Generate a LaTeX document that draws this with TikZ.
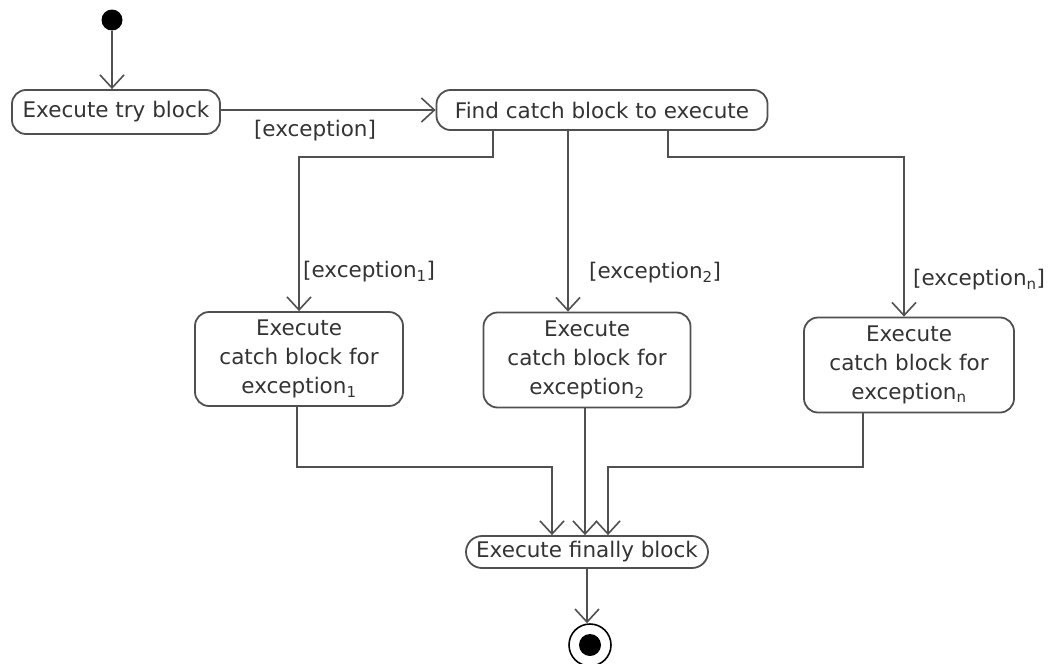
\documentclass[tikz,border=0pt]{standalone}
\usepackage{fontspec}
\setmainfont{DejaVu Sans}
\usetikzlibrary{arrows.meta}
\definecolor{linegray}{HTML}{505050}
\definecolor{textgray}{HTML}{333333}
\tikzset{
    action/.style={draw=linegray, line width=1.8pt, rounded corners=14pt,
        text=textgray, inner sep=0pt, align=center},
    arr/.style={draw=linegray, line width=1.6pt,
        -{Straight Barb[length=13pt,width=24pt,line width=1.6pt]}},
    guard/.style={text=textgray, inner sep=1pt},
}
\begin{document}
\begin{tikzpicture}[x=1pt, y=-1pt, font=\fontsize{21.5}{29}\selectfont]
        \useasboundingbox (0,0) rectangle (1053,664);
        %% start and try
        \node[circle, fill=black, minimum size=21pt, inner sep=0pt] (start) at (112,20) {};
        \node[action, minimum width=208pt, minimum height=44pt] (try) at (116,112) {Execute try block};
        \draw[arr] (start) -- (start |- try.north);
        %% find catch block
        \node[action, minimum width=331pt, minimum height=40pt] (find) at (602,110) {Find catch block to execute};
        \draw[arr] (try.east |- find) -- (find);
        \node[guard] (exc) at (315,131) {[exception]};
        %% catch blocks
        \coordinate (split) at (0,157);
        \node[action, minimum width=208pt, minimum height=94pt] (catchA) at (299,359)
            {Execute\\catch block for\\exception\textsubscript{1}};
        \node[action, minimum width=207pt, minimum height=95pt] (catchB) at (587,360)
            {Execute\\catch block for\\exception\textsubscript{2}};
        \node[action, minimum width=210pt, minimum height=95pt] (catchN) at (909,365)
            {Execute\\catch block for\\exception\textsubscript{n}};
        \draw[arr] ([xshift=-109pt]find.south) -- ([xshift=-109pt]find.south |- split) -| (catchA.north);
        \draw[arr] ([xshift=-34pt]find.south) -- ([xshift=-34pt]find.south |- catchB.north);
        \draw[arr] ([xshift=66pt]find.south) -- ([xshift=66pt]find.south |- split) -| ([xshift=-5pt]catchN.north);
        \node[guard, anchor=west] (excA) at (302,272) {[exception\textsubscript{1}]};
        \node[guard, anchor=west] (excB) at (588,273) {[exception\textsubscript{2}]};
        \node[guard, anchor=west] (excN) at (912,280) {[exception\textsubscript{n}]};
        %% finally and end
        \coordinate (merge) at (0,467);
        \node[action, rounded corners=16pt, minimum width=242pt, minimum height=32pt] (finally) at (587,552)
            {Execute finally block};
        \draw[arr] ([xshift=-2pt]catchA.south) -- ([xshift=-2pt]catchA.south |- merge) -| ([xshift=-35pt]finally.north);
        \draw[arr] ([xshift=-2pt]catchB.south) -- ([xshift=-2pt]catchB.south |- finally.north);
        \draw[arr] ([xshift=-46pt]catchN.south) -- ([xshift=-46pt]catchN.south |- merge) -| ([xshift=21pt]finally.north);
        \node[circle, draw=black, line width=1.6pt, minimum size=42pt, inner sep=0pt] (stop) at (590,645) {};
        \fill[black] (stop) circle (11pt);
        \draw[arr] (finally.south) -- (finally.south |- stop.north);
    \end{tikzpicture}
\end{document}
